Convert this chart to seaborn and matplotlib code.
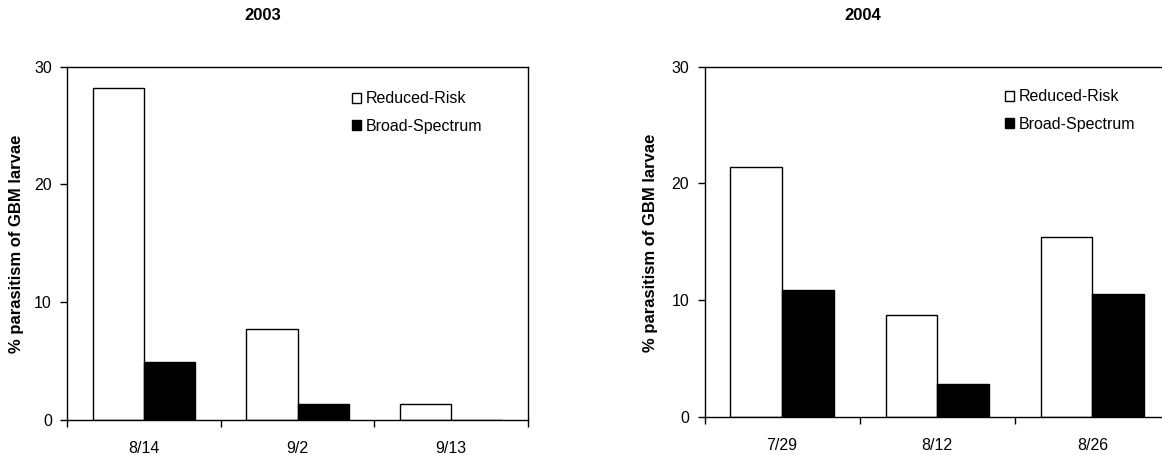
import pandas as pd
import matplotlib
matplotlib.use('Agg')
import matplotlib.pyplot as plt
import seaborn as sns
from matplotlib.patches import Patch
from matplotlib.ticker import FixedLocator

# dates sampled each year
dates_2003 = ['8/14', '9/2', '9/13']
dates_2004 = ['7/29', '8/12', '8/26']

# % parasitism
rr_2003 = [28.2, 7.7, 1.4]
bs_2003 = [4.9, 1.4, 0.0]
rr_2004 = [21.4, 8.7, 15.4]
bs_2004 = [10.9, 2.8, 10.5]

treatments = ['Reduced-Risk', 'Broad-Spectrum']
years = ['2003', '2004']
ylabel = '% parasitism of GBM larvae'

sns.set_style('white')
plt.rcParams['font.family'] = ['Liberation Sans', 'DejaVu Sans']
plt.rcParams['text.color'] = 'black'
plt.rcParams['axes.labelcolor'] = 'black'
plt.rcParams['xtick.color'] = 'black'
plt.rcParams['ytick.color'] = 'black'


def make_df(dates, rr, bs):
    return pd.DataFrame({
        'date': dates * 2,
        'pct': rr + bs,
        'treatment': [treatments[0]] * len(dates) + [treatments[1]] * len(dates),
    })


fig = plt.figure(figsize=(11.62, 4.55), dpi=100)
ax1 = fig.add_axes([0.0577, 0.0769, 0.3967, 0.7765])
ax2 = fig.add_axes([0.6063, 0.0835, 0.4006, 0.7699])

panels = [
    (ax1, make_df(dates_2003, rr_2003, bs_2003), (0.618, 0.93), (-0.093, 0.50)),
    (ax2, make_df(dates_2004, rr_2004, bs_2004), (0.6455, 0.935), (-0.100, 0.497)),
]

pal = {'Reduced-Risk': 'white', 'Broad-Spectrum': 'black'}

for ax, df, leg_pos, lab_pos in panels:
    sns.barplot(data=df, x='date', y='pct', hue='treatment', palette=pal,
                saturation=1, edgecolor='black', linewidth=1, width=0.667,
                legend=False, ax=ax)
    ax.set_xlim(-0.5, 2.5)
    ax.set_ylim(0, 30)
    ax.set_yticks([0, 10, 20, 30])
    ax.set_xlabel('')
    ax.set_ylabel(ylabel, fontsize=12, fontweight='bold')
    ax.yaxis.set_label_coords(*lab_pos)
    ax.xaxis.set_minor_locator(FixedLocator([-0.5, 0.5, 1.5, 2.5]))
    ax.tick_params(axis='x', which='major', length=0, pad=15, labelsize=11.5,
                   labelcolor='black')
    ax.tick_params(axis='x', which='minor', length=5, width=1, direction='out',
                   color='black', bottom=True)
    ax.tick_params(axis='y', length=5, width=1, direction='out', color='black',
                   left=True, pad=6, labelsize=11.5, labelcolor='black')
    for sp in ax.spines.values():
        sp.set_color('black')
        sp.set_linewidth(1)
    handles = [Patch(facecolor=pal[t], edgecolor='black', linewidth=1, label=t)
               for t in treatments]
    ax.legend(handles=handles, loc='upper left', bbox_to_anchor=leg_pos,
              frameon=False, fontsize=11.5, borderpad=0, borderaxespad=0,
              handlelength=0.56, handleheight=0.56, handletextpad=0.3,
              labelspacing=0.78, labelcolor='black')

fig.text(0.2263, 0.965, years[0], ha='center', va='center',
         fontsize=12, fontweight='bold', color='black')
fig.text(0.7424, 0.965, years[1], ha='center', va='center',
         fontsize=12, fontweight='bold', color='black')

fig.savefig('out.png', dpi=100)
